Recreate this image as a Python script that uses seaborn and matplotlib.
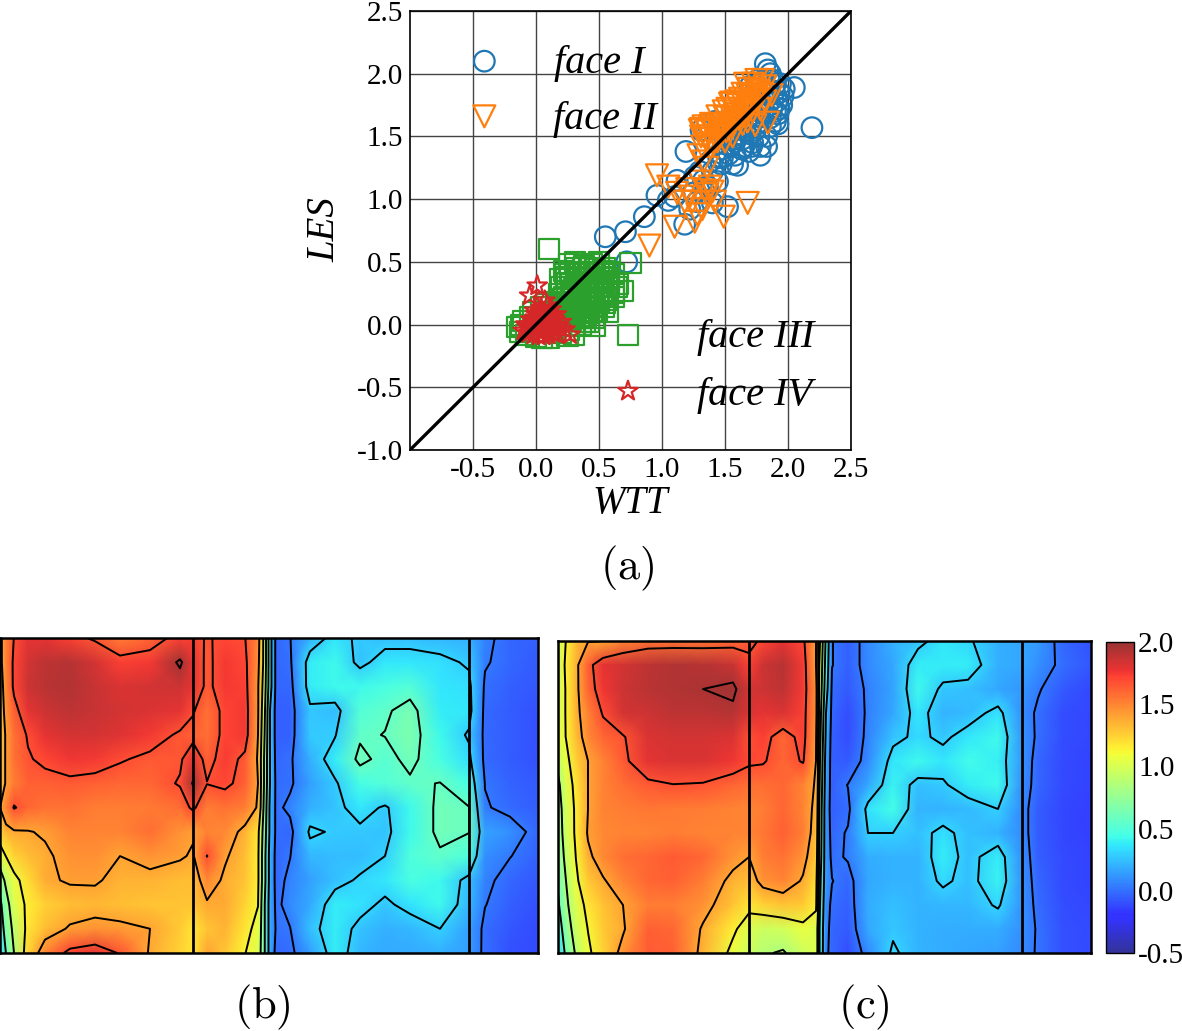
import numpy as np
import matplotlib
matplotlib.use('Agg')
import matplotlib.pyplot as plt
import seaborn as sns
from matplotlib.colors import ListedColormap, Normalize
from matplotlib.cm import ScalarMappable

# scatter: face I
blue_x = [2.19,1.82,1.84,1.86,1.85,2.05,1.97,1.93,1.90,1.88,
          1.95,1.92,1.87,1.90,1.86,1.83,1.78,1.60,1.78,1.83,
          1.72,1.65,1.70,1.75,1.80,1.62,1.55,1.58,1.66,1.73,
          1.77,1.82,1.88,1.92,1.68,1.60,1.52,1.48,1.44,1.55,
          1.62,1.70,1.75,1.80,1.85,1.90,1.38,1.31,1.36,1.42,
          1.47,1.53,1.57,1.64,1.69,1.19,1.26,1.30,1.36,1.44,
          1.40,1.52,1.34,1.28,1.22,1.18,1.12,1.05,0.96,0.86,
          0.71,0.55,0.72,1.10,1.25,1.33,1.40,1.48,1.58,1.67,
          1.74,1.79,1.86,1.91,1.94,1.84,1.76,1.70,1.64,1.56,
          1.50,1.45,1.58,1.63,1.71,1.77,1.83,1.89,1.93,1.96]
blue_y = [1.57,2.08,2.03,2.00,1.95,1.89,1.88,1.85,1.92,1.80,
          1.75,1.68,1.72,1.62,1.58,1.50,1.35,1.27,1.42,1.42,
          1.45,1.42,1.52,1.60,1.68,1.52,1.43,1.35,1.55,1.68,
          1.75,1.85,1.95,1.60,1.72,1.62,1.50,1.40,1.45,1.62,
          1.70,1.80,1.88,1.93,1.78,1.70,1.30,1.55,1.60,1.62,
          1.28,1.36,1.48,1.48,1.38,1.38,1.18,1.22,1.10,1.14,
          0.97,0.94,1.05,0.98,0.92,0.80,1.15,0.99,1.03,0.86,
          0.74,0.70,0.50,1.02,1.05,1.15,1.22,1.33,1.58,1.63,
          1.55,1.62,1.65,1.78,1.92,1.88,1.95,1.90,1.40,1.28,
          1.50,1.33,1.46,1.40,1.42,1.50,1.68,1.86,1.72,1.82]
# face II
orange_x = [1.68,1.49,1.10,0.90,0.96,1.05,1.12,1.20,1.24,1.28,
            1.32,1.36,1.40,1.42,1.30,1.22,1.34,1.38,1.18,1.26,
            1.30,1.34,1.38,1.44,1.29,1.33,1.36,1.31,1.35,1.40,
            1.45,1.50,1.54,1.58,1.47,1.52,1.56,1.60,1.65,1.70,
            1.55,1.62,1.68,1.74,1.84,1.77,1.82,1.72,1.66,1.60,
            1.75,1.80,1.87,1.82,1.78,1.72,1.68,1.64,1.56,1.50,
            1.32,1.37,1.42,1.47,1.52,1.57,1.62,1.67,1.72,1.77,
            1.33,1.39,1.44,1.49,1.54,1.59,1.64,1.69,1.74,1.79,
            1.31,1.36,1.41,1.46,1.51,1.56,1.61,1.66,1.71,1.76]
orange_y = [0.97,0.86,0.78,0.63,1.19,1.10,1.05,1.08,0.98,0.88,
            0.92,1.04,1.06,0.98,1.14,1.02,1.07,1.10,0.98,0.82,
            1.55,1.50,1.58,1.46,1.35,1.30,1.25,1.56,1.48,1.55,
            1.60,1.65,1.58,1.68,1.52,1.72,1.62,1.75,1.70,1.78,
            1.77,1.80,1.83,1.59,1.61,1.86,1.90,1.92,1.92,1.68,
            1.95,1.95,1.83,1.78,1.72,1.70,1.62,1.60,1.50,1.46,
            1.42,1.44,1.50,1.56,1.60,1.66,1.72,1.76,1.82,1.86,
            1.58,1.60,1.66,1.70,1.76,1.78,1.84,1.88,1.88,1.84,
            1.50,1.54,1.44,1.50,1.54,1.58,1.64,1.68,1.74,1.80]
# face III
green_x = [0.10,0.57,0.75,0.69,0.65,0.62,0.58,0.55,0.50,0.44,
           0.38,0.32,0.26,0.22,0.20,0.28,0.34,0.40,0.46,0.52,
           0.58,0.62,0.24,0.30,0.36,0.42,0.48,0.54,0.18,0.22,
           0.28,0.34,0.40,0.46,0.52,0.56,0.20,0.26,0.32,0.38,
           0.44,0.50,0.54,0.24,0.30,0.36,0.42,0.48,0.16,0.22,
           0.28,0.34,0.40,0.46,0.30,0.36,0.42,0.26,0.18,0.12,
           -0.15,-0.13,-0.10,-0.08,-0.05,-0.12,0.00,0.05,0.10,0.14,
           0.20,0.25,0.30,-0.02,0.04,0.08,0.35,0.38,0.15,0.12,
           0.58,0.44,0.50,0.30,0.56,0.25,0.62,0.64,0.33,0.47,
           0.27,0.31,0.37,0.41,0.47,0.53,0.19,0.23,0.29,0.35,
           0.39,0.45,0.51,0.57,0.21,0.25,0.33,0.43,0.49,0.55,
           0.17,0.27,0.37,0.23,0.31,0.41,0.47,0.39,0.35,0.44]
green_y = [0.60,0.10,0.49,0.27,0.32,0.25,0.35,0.45,0.50,0.48,
           0.47,0.45,0.48,0.43,0.30,0.32,0.36,0.38,0.40,0.38,
           0.30,0.22,0.38,0.28,0.28,0.31,0.33,0.31,0.24,0.22,
           0.23,0.21,0.24,0.26,0.24,0.20,0.16,0.15,0.16,0.18,
           0.20,0.18,0.14,0.10,0.08,0.10,0.13,0.10,0.18,0.06,
           0.04,0.05,0.07,0.05,-0.01,0.00,0.02,-0.04,0.00,0.10,
           -0.02,-0.06,0.03,-0.08,0.06,0.00,-0.10,-0.11,-0.11,-0.03,
           -0.07,-0.09,-0.08,0.10,0.14,0.16,0.42,0.26,0.08,0.03,
           0.42,0.36,0.27,0.18,0.37,0.33,0.40,0.30,0.40,0.15,
           0.41,0.50,0.45,0.42,0.44,0.43,0.36,0.40,0.27,0.31,
           0.34,0.29,0.35,0.27,0.20,0.27,0.24,0.17,0.22,0.17,
           0.11,0.10,0.05,0.03,0.12,0.09,-0.01,0.02,0.13,0.11]
# face IV
red_x = [0.01,-0.05,0.07,0.27,0.17,0.23,0.12,0.15,0.10,0.05,
         0.00,-0.04,-0.08,-0.10,-0.06,-0.02,0.02,0.06,0.10,0.14,
         0.18,0.12,0.08,0.04,0.00,-0.04,0.02,0.06,0.10,0.14,
         -0.03,0.01,0.05,0.09,0.13,0.04,0.08,0.03,-0.01,0.07,
         -0.07,0.00,0.11,0.16,0.03,0.20,0.09,-0.01,0.04,0.12]
red_y = [0.31,0.23,0.19,-0.08,-0.08,-0.04,0.12,0.04,0.07,0.10,
         0.08,0.04,0.00,-0.05,-0.07,-0.08,-0.09,-0.09,-0.08,-0.04,
         -0.01,0.00,0.02,0.03,0.02,0.00,0.06,0.05,0.02,-0.07,
         -0.03,-0.04,-0.05,-0.04,0.08,0.13,-0.01,-0.01,-0.01,0.10,
         -0.02,0.05,-0.06,0.08,0.08,0.02,0.15,0.11,0.00,-0.02]
# key markers in the plot
key_x = [-0.41,-0.41,0.73,0.73]
key_y = [2.10,1.66,-0.08,-0.53]

ticks_x = [-0.5,0.0,0.5,1.0,1.5,2.0,2.5]
ticks_y = [-1.0,-0.5,0.0,0.5,1.0,1.5,2.0,2.5]
levels = [0.025,0.3,0.575,0.85,1.125,1.4,1.675,1.95]
cbar_ticks = [-0.5,0.0,0.5,1.0,1.5,2.0]

# panel b: spanwise stations, rows run top to bottom
cols_b = [0,6,14,28,45,70,95,120,150,180,193,207,225,245,258,264,270,276,290,310,335,360,385,410,440,469,485,510,538]
field_b = [
 [1.35,1.51,1.68,1.79,1.79,1.73,1.65,1.53,1.6,1.73,1.73,1.66,1.71,1.68,1.49,1.07,.41,-.03, .02,.2,.36,.27,.25,.25,.22,.2,.06,-.03,-.05],
 [1.35,1.51,1.71,1.84,1.9,1.92,1.84,1.73,1.75,1.98,1.79,1.64,1.75,1.71,1.46,1.07,.41,-.03, .0,.38,.42,.26,.36,.36,.34,.28,.04,-.03,-.07],
 [1.31,1.49,1.71,1.86,1.91,1.93,1.87,1.82,1.84,1.86,1.79,1.64,1.75,1.73,1.42,1.02,.41,-.03, -.03,.38,.42,.42,.46,.50,.36,.34,.0,-.05,-.08],
 [1.29,1.46,1.62,1.79,1.86,1.9,1.87,1.84,1.82,1.79,1.69,1.57,1.72,1.75,1.42,.96,.3,-.05, -.05,.27,.24,.5,.55,.64,.38,.36,-.02,-.06,-.09],
 [1.27,1.42,1.57,1.69,1.79,1.84,1.84,1.81,1.75,1.65,1.62,1.57,1.72,1.75,1.4,.91,.3,-.05, -.05,.28,.29,.55,.58,.66,.42,.28,-.02,-.06,-.09],
 [1.27,1.42,1.57,1.66,1.71,1.76,1.75,1.69,1.64,1.65,1.79,1.62,1.74,1.64,1.38,.85,.3,-.03, .0,.2,.38,.62,.52,.62,.46,.34,-.02,-.06,-.09],
 [1.27,1.42,1.53,1.62,1.62,1.64,1.62,1.6,1.6,1.69,1.97,1.68,1.71,1.62,1.4,.85,.3,-.01, .0,.15,.28,.45,.5,.55,.58,.45,.02,-.04,-.07],
 [1.4,1.51,1.69,1.6,1.57,1.57,1.53,1.53,1.54,1.58,1.71,1.53,1.57,1.53,1.38,.8,.25,-.01, .06,.2,.26,.36,.28,.42,.62,.58,.04,-.02,-.06],
 [1.24,1.35,1.38,1.39,1.42,1.51,1.51,1.51,1.58,1.46,1.42,1.51,1.49,1.35,1.18,.74,.25,-.01, -.03,.33,.28,.27,.26,.42,.62,.58,.16,.1,-.03],
 [1.02,1.13,1.24,1.31,1.37,1.46,1.47,1.4,1.46,1.42,1.38,1.68,1.42,1.31,1.16,.69,.21,-.03, .02,.22,.24,.24,.3,.48,.55,.48,.1,.03,-.05],
 [.69,.91,1.07,1.21,1.37,1.42,1.42,1.35,1.35,1.31,1.31,1.49,1.37,1.29,1.16,.69,.21,-.03, .06,.15,.25,.32,.36,.46,.42,.25,.06,-.03,-.08],
 [.52,.74,1.02,1.16,1.25,1.31,1.33,1.31,1.29,1.29,1.29,1.38,1.38,1.24,1.13,.63,.19,-.01, .08,.18,.38,.35,.27,.35,.42,.22,.03,-.05,-.09],
 [.41,.69,.91,1.18,1.31,1.42,1.46,1.44,1.4,1.27,1.18,1.29,1.35,1.18,1.07,.63,.19,.01, .02,.25,.38,.26,.2,.22,.3,.15,-.01,-.08,-.11],
 [.3,.58,.85,1.24,1.51,1.73,1.79,1.66,1.38,1.24,1.18,1.4,1.29,1.13,1.02,.63,.19,-.03, -.01,.14,.38,.22,.18,.18,.2,.14,-.01,-.09,-.11],
]
walls_b = [193,469]

# panel c
cols_c = [0,8,18,30,45,65,90,115,145,175,191,205,225,245,258,262,268,274,290,310,335,360,385,410,440,464,480,505,533]
field_c = [
 [.96,1.13,1.31,1.39,1.4,1.51,1.57,1.57,1.57,1.6,1.62,1.71,1.79,1.71,1.4,1.13,.52,.03, -.05,.08,.2,.26,.36,.32,.2,.17,.13,-.03,-.09],
 [.96,1.16,1.35,1.62,1.79,1.84,1.9,1.93,1.92,1.87,1.73,1.86,1.92,1.75,1.4,1.07,.47,.03, -.05,.08,.17,.38,.38,.38,.2,.17,.1,-.01,-.08],
 [.96,1.14,1.35,1.6,1.76,1.86,1.91,1.93,1.95,1.98,1.84,1.86,1.9,1.75,1.46,1.02,.41,-.01, -.07,.05,.16,.42,.27,.25,.17,.12,.04,-.07,-.12],
 [.96,1.14,1.35,1.51,1.69,1.84,1.86,1.9,1.9,1.92,1.82,1.79,1.82,1.73,1.46,.96,.3,-.03, -.1,.05,.17,.36,.21,.23,.35,.1,.0,-.1,-.12],
 [1.02,1.13,1.31,1.49,1.6,1.66,1.82,1.84,1.84,1.82,1.68,1.73,1.6,1.73,1.42,.91,.25,-.05, -.1,.06,.26,.33,.27,.36,.42,.12,.0,-.1,-.12],
 [.91,1.07,1.24,1.4,1.51,1.64,1.79,1.82,1.82,1.76,1.7,1.69,1.6,1.69,1.4,.85,.19,-.05, -.07,.08,.36,.42,.36,.43,.39,.12,-.03,-.11,-.13],
 [.8,1.02,1.18,1.4,1.51,1.58,1.64,1.67,1.66,1.6,1.58,1.58,1.6,1.51,1.38,.8,.17,-.05, .03,.17,.4,.25,.28,.38,.42,.1,-.03,-.11,-.13],
 [.74,.98,1.16,1.4,1.51,1.53,1.55,1.54,1.53,1.51,1.51,1.53,1.6,1.51,1.35,.74,.14,-.05, -.01,.35,.44,.21,.21,.23,.3,.08,-.06,-.12,-.14],
 [.72,.96,1.16,1.42,1.49,1.51,1.51,1.53,1.51,1.51,1.51,1.55,1.62,1.53,1.31,.72,.14,-.03, .04,.3,.3,.25,.34,.25,.21,.08,-.06,-.12,-.14],
 [.69,.91,1.13,1.36,1.49,1.58,1.6,1.64,1.6,1.46,1.4,1.53,1.57,1.46,1.27,.69,.14,-.01, .04,.19,.21,.21,.38,.25,.38,.1,-.05,-.11,-.13],
 [.61,.85,1.09,1.27,1.38,1.51,1.6,1.62,1.53,1.35,1.31,1.46,1.51,1.38,1.2,.63,.14,.03, -.03,.17,.21,.21,.33,.25,.4,.11,-.03,-.11,-.13],
 [.54,.8,1.02,1.18,1.29,1.4,1.53,1.53,1.46,1.29,1.18,1.24,1.29,1.27,1.16,.58,.1,-.01, -.05,.19,.25,.21,.22,.22,.32,.11,-.01,-.1,-.12],
 [.43,.72,.96,1.13,1.27,1.38,1.62,1.6,1.38,1.16,1.02,.96,.98,1.07,1.02,.52,.08,-.03, -.07,.17,.27,.21,.19,.19,.19,.1,.01,-.09,-.11],
 [.3,.63,.88,1.09,1.24,1.46,1.64,1.62,1.35,1.07,.96,.87,.83,.96,1.02,.52,.06,-.03, -.1,.08,.33,.21,.19,.17,.15,.08,.01,-.09,-.11],
]
walls_c = [191,260,464]

sns.set_style('white')
plt.rcParams['font.family'] = ['Liberation Serif', 'DejaVu Serif']
plt.rcParams['mathtext.fontset'] = 'cm'
plt.rcParams['text.color'] = 'black'
plt.rcParams['xtick.color'] = 'black'
plt.rcParams['ytick.color'] = 'black'

W, H = 1182, 1031
fig = plt.figure(figsize=(W / 100, H / 100), dpi=100)

def box(x0, y0, x1, y1):
    return [x0 / W, 1 - y1 / H, (x1 - x0) / W, (y1 - y0) / H]

def label(x, y, s, **kw):
    fig.text(x / W, 1 - y / H, s, ha='center', va='center', **kw)

#jet washed over white, as in the original
jet = plt.get_cmap('jet')(np.linspace(0, 1, 256))[:, :3]
cmap = ListedColormap(jet * 0.8 + 0.2)
norm = Normalize(-0.5, 2.0)

ax = fig.add_axes(box(410, 11, 851, 450))
ax.grid(True, color='#444444', lw=1.0)
ax.set_axisbelow(True)
groups = [(blue_x, blue_y, 'o', '#1f77b4', 220, 0),
          (orange_x, orange_y, 'v', '#ff7f0e', 250, 1),
          (green_x, green_y, 's', '#2ca02c', 210, 2),
          (red_x, red_y, '*', '#d62728', 220, 3)]
for xs, ys, m, c, s, k in groups:
    sns.scatterplot(x=xs, y=ys, marker=m, s=s, facecolors='none', edgecolor=c, linewidth=1.6, ax=ax, clip_on=False, zorder=3)
    sns.scatterplot(x=[key_x[k]], y=[key_y[k]], marker=m, s=s, facecolors='none', edgecolor=c, linewidth=1.6, ax=ax, zorder=3)
ax.plot([-1, 2.5], [-1, 2.5], color='black', lw=2.4, zorder=4)
ax.set_xlim(-1, 2.5)
ax.set_ylim(-1, 2.5)
ax.set_xticks(ticks_x)
ax.set_yticks(ticks_y)
ax.set_xticklabels(['%.1f' % t for t in ticks_x])
ax.set_yticklabels(['%.1f' % t for t in ticks_y])
ax.tick_params(labelsize=21, length=0, pad=5)
for sp in ax.spines.values():
    sp.set_color('black')
    sp.set_linewidth(1.2)

label(599, 64, 'face I', fontsize=29, style='italic')
label(605, 120, 'face II', fontsize=29, style='italic')
label(756, 338, 'face III', fontsize=29, style='italic')
label(755, 395, 'face IV', fontsize=29, style='italic')
label(630, 504, 'WTT', fontsize=28, style='italic')
label(325, 230, 'LES', fontsize=28, style='italic', rotation=90)
label(627, 568, r'$\mathrm{(a)}$', fontsize=32)
label(262, 1007, r'$\mathrm{(b)}$', fontsize=32)
label(864, 1007, r'$\mathrm{(c)}$', fontsize=32)

panels = [(box(0, 638, 538, 953), cols_b, field_b, walls_b),
          (box(558, 641, 1091, 953), cols_c, field_c, walls_c)]
for pos, cols, field, walls in panels:
    a = fig.add_axes(pos)
    rows = np.arange(len(field))
    a.pcolormesh(cols, rows, np.array(field), cmap=cmap, norm=norm, shading='gouraud')
    a.contour(cols, rows, np.array(field), levels=levels, colors='black', linewidths=1.4)
    for v in walls:
        a.axvline(v, color='black', lw=2.0)
    a.set_xlim(cols[0], cols[-1])
    a.set_ylim(rows[-1], rows[0])
    a.set_xticks([])
    a.set_yticks([])
    for sp in a.spines.values():
        sp.set_color('black')
        sp.set_linewidth(1.8)

cax = fig.add_axes(box(1106, 642, 1134, 953))
cb = fig.colorbar(ScalarMappable(norm=norm, cmap=cmap), cax=cax)
cb.set_ticks(cbar_ticks)
cb.set_ticklabels(['%.1f' % t for t in cbar_ticks])
cax.tick_params(labelsize=21, length=2, direction='in', pad=3, color='black')
cb.outline.set_edgecolor('black')
cb.outline.set_linewidth(1.0)

fig.savefig('out.png', dpi=100)
